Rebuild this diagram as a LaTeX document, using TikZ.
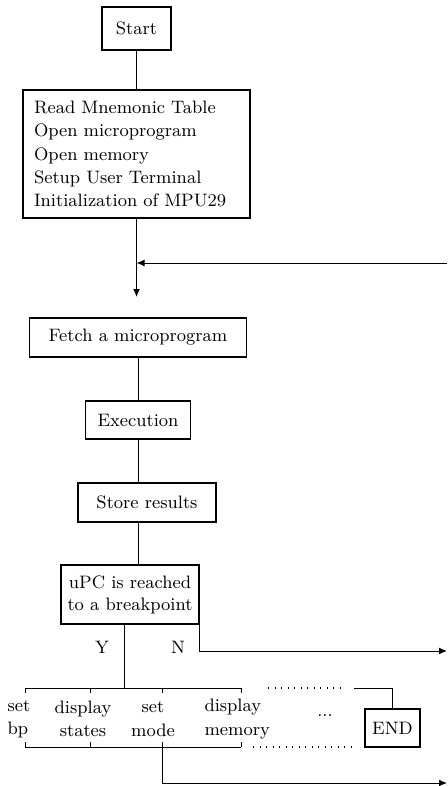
\documentclass[tikz,border=0pt]{standalone}
\usepackage{fontspec}
\usetikzlibrary{arrows.meta, positioning}

\begin{document}
\begin{tikzpicture}[x=0.5pt, y=-0.5pt, line width=0.5pt,
    font=\fontsize{9}{11.6}\selectfont\addfontfeatures{LetterSpace=2.5},
    >={Latex[length=4pt, width=3.4pt]},
    box/.style={draw, line width=0.6pt, inner sep=0pt, align=center},
    lbl/.style={inner sep=0pt},
    dotrow/.style={line width=0.8pt, dash pattern=on 0.7pt off 2.55pt}]

  \useasboundingbox (0,0) rectangle (447,786);

  % main chain
  \node[box, minimum width=34.5pt, minimum height=21.5pt] (start) at (136.5,28.5) {Start};
  \node[box, minimum width=113.5pt, minimum height=64pt, align=left, text width=102.5pt] (init) at (136.5,154)
    {Read Mnemonic Table\\Open microprogram\\Open memory\\Setup User Terminal\\Initialization of MPU29};
  \node[box, minimum width=108.5pt, minimum height=19.5pt] (fetch) at (138,337.5) {Fetch a microprogram};
  \node[box, minimum width=52.5pt, minimum height=19pt] (exec) at (138,420) {Execution};
  \node[box, minimum width=69pt, minimum height=19.5pt] (store) at (147,502.5) {Store results};
  \node[box, minimum width=69pt, minimum height=29.5pt, font=\fontsize{9}{11}\selectfont\addfontfeatures{LetterSpace=2.5}] (upc) at (130,594.5)
    {uPC is reached\\to a breakpoint};
  \node[box, minimum width=27.5pt, minimum height=19pt] (fin) at (392.5,728) {END};

  \coordinate (tip) at (136.5,297);
  \coordinate (loopin) at (447,263);
  \coordinate (ytop) at (124,688);
  \coordinate (nout) at (447,651);
  \coordinate (endline) at (354,688);
  \coordinate (modefoot) at (162,747);
  \coordinate (loopout) at (447,783);

  \draw (start) -- (init);
  \draw[->] (init.south) -- (tip);
  \draw[->] (loopin) -- (loopin -| init.south);
  \draw (fetch) -- (exec);
  \draw (exec.south) -- (exec.south |- store.north);
  \draw (exec.south |- store.south) -- (exec.south |- upc.north);

  % decision
  \draw (ytop |- upc.south) -- (ytop);
  \node[lbl] (yes) at (102,647) {Y};
  \node[lbl] (no) at (178,647) {N};
  \draw[->] (upc.south east) |- (nout);

  % command menu
  \draw (25,688) -- (241,688);
  \draw (25,747) -- (241,747);
  \foreach \x in {25,90,162,241} {
    \draw (\x,688) -- (\x,693);
    \draw (\x,747) -- (\x,742);
  }
  \node[lbl, anchor=west, align=left] (bp) at (7,719) {set\\bp};
  \node[lbl, align=center] (states) at (83,719) {display\\states};
  \node[lbl, align=center] (mode) at (153,719) {set\\mode};
  \node[lbl, anchor=west, align=left] (memory) at (204,719) {display\\memory};
  \node[lbl] (more) at (325,716) {...};
  \draw[dotrow] (268,688) -- (340,688);
  \draw[dotrow] (253,747) -- (353,747);
  \draw (endline) -| (fin.north);
  \draw[->] (modefoot) |- (loopout);
\end{tikzpicture}
\end{document}
